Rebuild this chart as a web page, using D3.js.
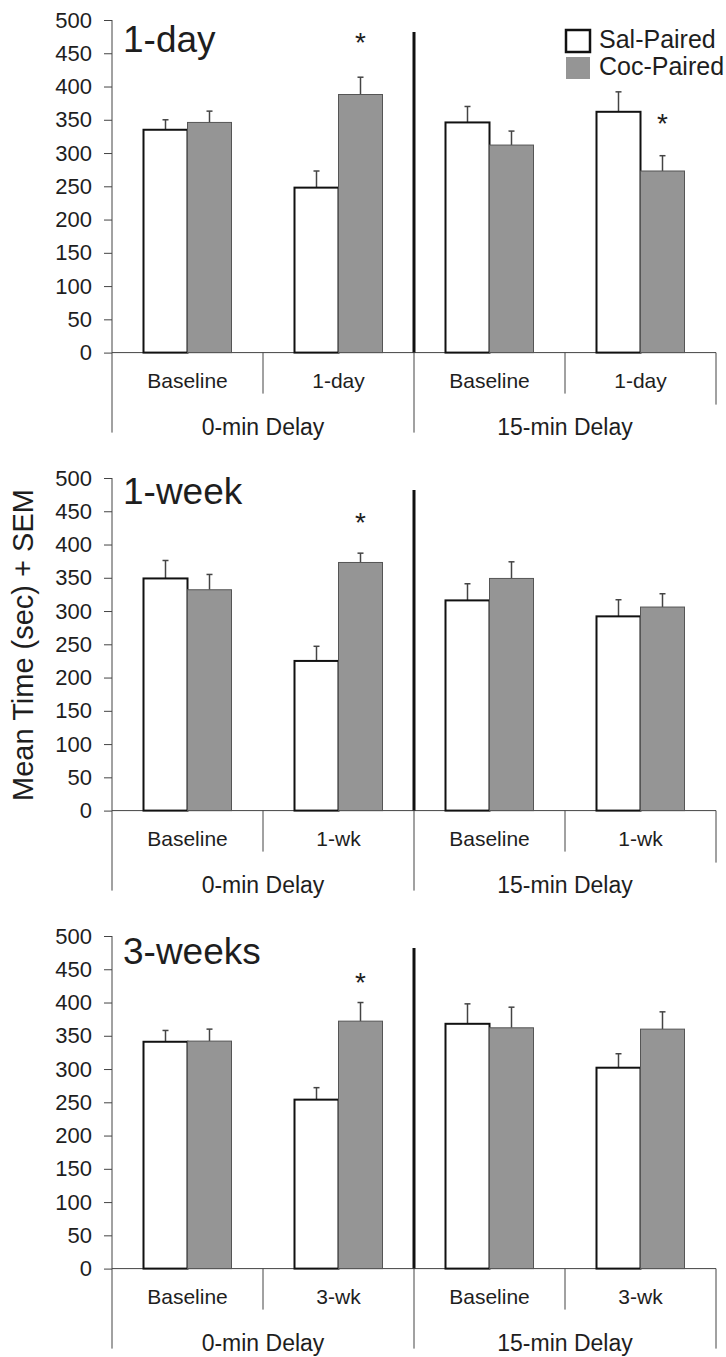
<!DOCTYPE html>
<html>
<head>
<meta charset="utf-8">
<script src="https://cdn.jsdelivr.net/npm/d3@7"></script>
<style>
  body { margin: 0; background: #fff; }
  text { font-family: "Liberation Sans", Arial, sans-serif; fill: #1e1e1e; }
</style>
</head>
<body>
<div id="chart"></div>
<script>
// data
var titles = ['1-day', '1-week', '3-weeks'];
var series = ['Sal-Paired', 'Coc-Paired'];
var delays = ['0-min Delay', '15-min Delay'];
var categories = [
  ['Baseline', '1-day', 'Baseline', '1-day'],
  ['Baseline', '1-wk', 'Baseline', '1-wk'],
  ['Baseline', '3-wk', 'Baseline', '3-wk']
];
var salMean = [[335, 248, 346, 362], [349, 225, 316, 292], [341, 254, 368, 302]];
var salSem  = [[15, 25, 24, 30],     [27, 22, 25, 25],     [17, 18, 30, 21]];
var cocMean = [[346, 388, 312, 273], [332, 373, 349, 306], [342, 372, 362, 360]];
var cocSem  = [[17, 26, 21, 23],     [23, 14, 25, 20],     [18, 28, 31, 26]];
var yTicks = [0, 50, 100, 150, 200, 250, 300, 350, 400, 450, 500];
// asterisks: panel, group, series, height (in sec)
var stars = [
  [0, 1, 'Coc-Paired', 474],
  [0, 3, 'Coc-Paired', 352],
  [1, 1, 'Coc-Paired', 442],
  [2, 1, 'Coc-Paired', 438]
];
var yLabel = 'Mean Time (sec) + SEM';

var W = 726, H = 1357;
var left = 112, right = 716;
var panelTop = [20, 478, 936];
var plotH = 332.6;
var titleDy = [32, 26, 28];
var endTick = [52, 52, 80];

var svg = d3.select('#chart').append('svg')
  .attr('width', W).attr('height', H);

var fills = { 'Sal-Paired': '#fff', 'Coc-Paired': '#959595' };
var strokes = { 'Sal-Paired': '#111', 'Coc-Paired': '#555' };
var strokeW = { 'Sal-Paired': 2, 'Coc-Paired': 1 };

var x0 = d3.scaleBand().domain(d3.range(4)).range([left, right]);
var bw = x0.bandwidth();
var x1 = d3.scaleBand().domain(series).range([bw / 2 - 44, bw / 2 + 44]);

titles.forEach(function (title, p) {
  var top = panelTop[p];
  var y = d3.scaleLinear().domain([0, 500]).range([top + plotH, top]);
  var base = y(0);
  var g = svg.append('g');

  // y axis
  var ax = g.append('g')
    .attr('transform', 'translate(' + left + ',0)')
    .call(d3.axisLeft(y).tickValues(yTicks).tickSize(8).tickPadding(12).tickSizeOuter(0));
  ax.select('.domain').remove();
  ax.selectAll('line').attr('stroke', '#444');
  ax.selectAll('text').style('font-size', '22px').attr('fill', '#1e1e1e')
    .style('font-family', '"Liberation Sans", Arial, sans-serif');

  // axis lines
  g.append('line').attr('x1', left).attr('x2', left)
    .attr('y1', y(500)).attr('y2', base + 80).attr('stroke', '#444');
  g.append('line').attr('x1', left).attr('x2', right)
    .attr('y1', base).attr('y2', base).attr('stroke', '#444');

  [1, 3].forEach(function (i) {
    g.append('line').attr('x1', x0(i)).attr('x2', x0(i))
      .attr('y1', base).attr('y2', base + 41).attr('stroke', '#444');
  });
  g.append('line').attr('x1', right).attr('x2', right)
    .attr('y1', base).attr('y2', base + endTick[p]).attr('stroke', '#444');

  // delay divider
  var mid = x0(2);
  g.append('line').attr('x1', mid).attr('x2', mid)
    .attr('y1', y(482)).attr('y2', base).attr('stroke', '#111').attr('stroke-width', 3);
  g.append('line').attr('x1', mid).attr('x2', mid)
    .attr('y1', base).attr('y2', base + 80).attr('stroke', '#444');

  // bars
  var rows = [];
  for (var i = 0; i < 4; i++) {
    rows.push({ group: i, key: 'Sal-Paired', mean: salMean[p][i], sem: salSem[p][i] });
    rows.push({ group: i, key: 'Coc-Paired', mean: cocMean[p][i], sem: cocSem[p][i] });
  }

  var bar = g.selectAll('.bar').data(rows).enter().append('g')
    .attr('transform', function (d) { return 'translate(' + (x0(d.group) + x1(d.key)) + ',0)'; });

  bar.append('line')
    .attr('x1', x1.bandwidth() / 2).attr('x2', x1.bandwidth() / 2)
    .attr('y1', function (d) { return y(d.mean); })
    .attr('y2', function (d) { return y(d.mean + d.sem); })
    .attr('stroke', '#444').attr('stroke-width', 1.5);
  bar.append('line')
    .attr('x1', x1.bandwidth() / 2 - 3).attr('x2', x1.bandwidth() / 2 + 3)
    .attr('y1', function (d) { return y(d.mean + d.sem); })
    .attr('y2', function (d) { return y(d.mean + d.sem); })
    .attr('stroke', '#444').attr('stroke-width', 1.5);

  bar.append('rect')
    .attr('x', 0).attr('width', x1.bandwidth())
    .attr('y', function (d) { return y(d.mean); })
    .attr('height', function (d) { return base - y(d.mean); })
    .attr('fill', function (d) { return fills[d.key]; })
    .attr('stroke', function (d) { return strokes[d.key]; })
    .attr('stroke-width', function (d) { return strokeW[d.key]; });

  // category labels
  categories[p].forEach(function (c, i) {
    g.append('text').attr('x', x0(i) + bw / 2).attr('y', base + 35)
      .attr('text-anchor', 'middle').style('font-size', '21px').text(c);
  });
  delays.forEach(function (dl, i) {
    g.append('text').attr('x', x0(i * 2) + bw).attr('y', base + 82)
      .attr('text-anchor', 'middle').style('font-size', '23px').text(dl);
  });

  // title
  g.append('text').attr('x', left + 11).attr('y', top + titleDy[p])
    .style('font-size', '37px').text(title);

  // asterisks
  stars.filter(function (s) { return s[0] === p; }).forEach(function (s) {
    g.append('text')
      .attr('x', x0(s[1]) + x1(s[2]) + x1.bandwidth() / 2)
      .attr('y', y(s[3]) + 15)
      .attr('text-anchor', 'middle').style('font-size', '28px').text('*');
  });
});

// y axis title
svg.append('text')
  .attr('transform', 'translate(33,645) rotate(-90)')
  .attr('text-anchor', 'middle').style('font-size', '29px').text(yLabel);

// legend
var leg = svg.append('g');
series.forEach(function (s, i) {
  leg.append('rect').attr('x', 566).attr('y', 30 + i * 27)
    .attr('width', 24).attr('height', 22)
    .attr('fill', fills[s])
    .attr('stroke', s === 'Sal-Paired' ? '#111' : 'none')
    .attr('stroke-width', 2.5);
  leg.append('text').attr('x', 599).attr('y', 48 + i * 27)
    .style('font-size', '25px').text(s);
});
</script>
</body>
</html>
